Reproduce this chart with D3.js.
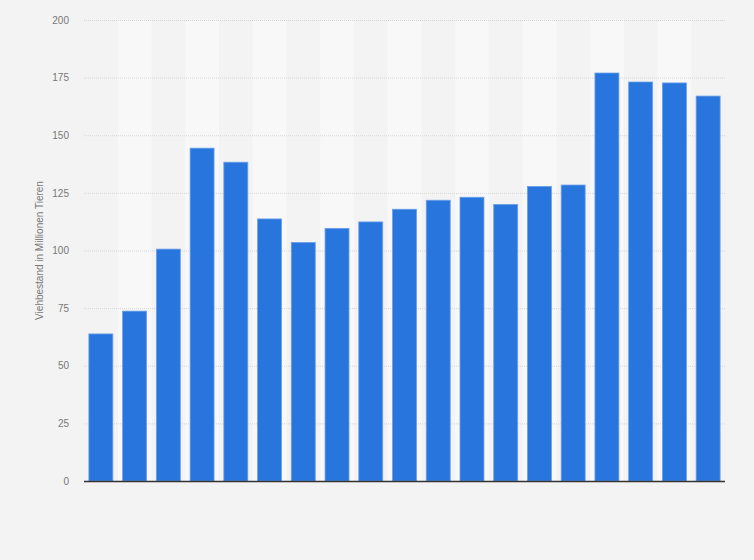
<!DOCTYPE html>
<meta charset="utf-8">
<script src="https://d3js.org/d3.v7.min.js"></script>
<style>
  body { margin: 0; background: #f3f3f3; }
</style>
<div id="chart"></div>
<script>

var categories = ["1", "2", "3", "4", "5", "6", "7", "8", "9", "10",
                  "11", "12", "13", "14", "15", "16", "17", "18", "19"]
var values = [63.8, 73.7, 100.6, 144.4, 138.3, 113.7, 103.5, 109.6, 112.4, 117.9,
              121.8, 123.1, 120.0, 127.8, 128.4, 177.0, 173.1, 172.7, 167.0]
var yTicks = [0, 25, 50, 75, 100, 125, 150, 175, 200]
var yLabel = "Viehbestand in Millionen Tieren"

var w = 754, h = 560
var margin = {top: 20, right: 29, bottom: 79, left: 84},
    innerWidth = w - margin.left - margin.right,
    innerHeight = h - margin.top - margin.bottom

var svg = d3.select("#chart")
  .append("svg")
    .attr("width", w)
    .attr("height", h)
    .style("font-family", "Arial, 'Liberation Sans', sans-serif")

svg.append("rect")
  .attr("width", w).attr("height", h)
  .attr("fill", "#f3f3f3")

var g = svg.append("g")
  .attr("transform", `translate(${margin.left},${margin.top})`)

var xScale = d3.scaleBand()
  .domain(categories)
  .range([0, innerWidth])
  .paddingInner(0.29)
  .paddingOuter(0.145)

var yScale = d3.scaleLinear()
  .domain([0, 200])
  .range([innerHeight, 0])

// alternating column bands
g.selectAll("rect.band")
  .data(categories.filter((d, i) => i % 2 == 1))
  .enter()
  .append("rect")
    .attr("class", "band")
    .attr("x", d => xScale(d) - xScale.step() * xScale.paddingInner() / 2)
    .attr("y", 0)
    .attr("width", xScale.step())
    .attr("height", innerHeight)
    .attr("fill", "#f8f8f8")

// grid + tick labels
var yAxis = g.append("g")
  .attr("class", "yaxis")
  .call(d3.axisLeft(yScale)
    .tickValues(yTicks)
    .tickSize(-innerWidth)
    .tickPadding(15))

yAxis.select(".domain").remove()
yAxis.selectAll(".tick line")
  .attr("stroke", "#d6d6d6")
  .attr("stroke-dasharray", "1,1")
yAxis.selectAll(".tick text")
  .attr("fill", "#777")
  .attr("font-size", "10px")
  .attr("font-family", "Arial, 'Liberation Sans', sans-serif")

g.selectAll("rect.bar")
  .data(values)
  .enter()
  .append("rect")
    .attr("class", "bar")
    .attr("x", (d, i) => xScale(categories[i]))
    .attr("y", d => yScale(d))
    .attr("width", xScale.bandwidth())
    .attr("height", d => innerHeight - yScale(d))
    .attr("fill", "#2876dd")
    .attr("stroke", "#6a9fe8")
    .attr("stroke-width", 0.8)

g.append("line")
  .attr("x1", 0).attr("x2", innerWidth)
  .attr("y1", innerHeight + 0.5).attr("y2", innerHeight + 0.5)
  .attr("stroke", "#333")
  .attr("stroke-width", 1.5)

svg.append("text")
  .attr("text-anchor", "middle")
  .attr("transform", `translate(43,${margin.top + innerHeight / 2}) rotate(-90)`)
  .attr("fill", "#777")
  .attr("font-size", "10px")
  .text(yLabel)

</script>
